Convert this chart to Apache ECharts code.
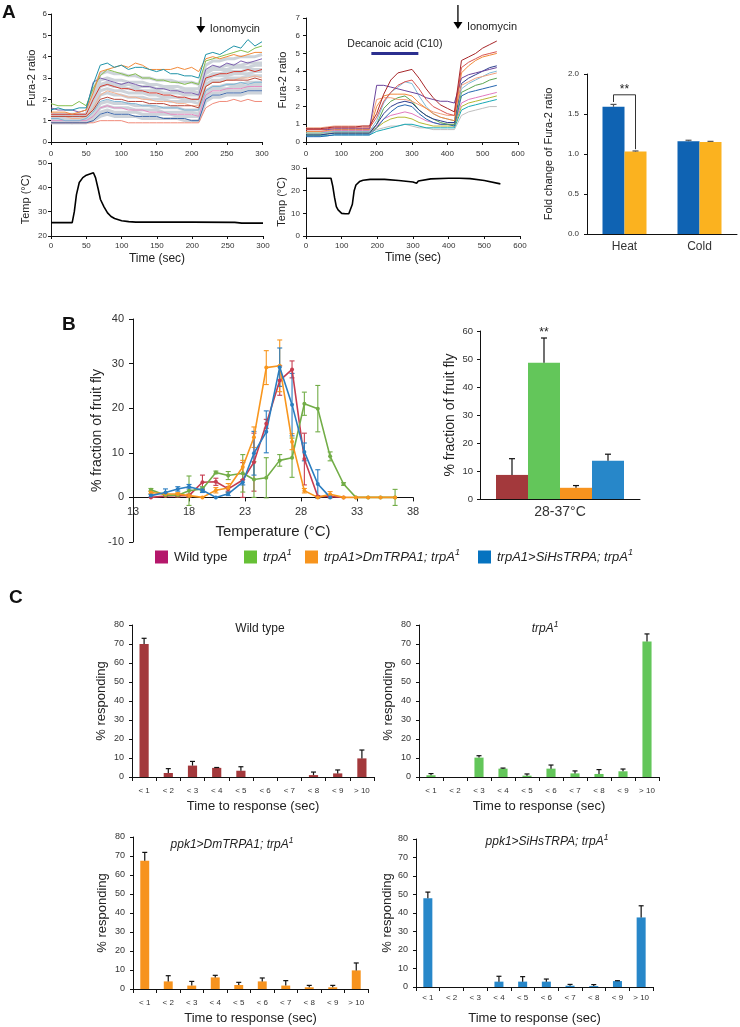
<!DOCTYPE html>
<html>
<head>
<meta charset="utf-8">
<script src="https://cdn.jsdelivr.net/npm/echarts@6.0.0/dist/echarts.min.js"></script>
<style>
  html, body { margin: 0; padding: 0; background: #fff; }
  #fig { width: 740px; height: 1027px; }
</style>
</head>
<body>
<div id="fig"></div>
<script>
// ---------- data: panel A, calcium imaging traces (Fura-2 ratio) ----------
const tA = [0,10,20,30,40,50,60,70,80,90,100,110,120,130,140,150,160,170,180,190,200,210,220,230,240,250,260,270,280,290,300];
const fA_grey1 = [1.1,1.1,1.1,1.0,1.1,1.1,1.8,2.6,2.7,2.6,2.6,2.5,2.5,2.4,2.4,2.4,2.3,2.3,2.3,2.2,2.2,2.2,3.0,3.2,3.2,3.3,3.3,3.3,3.4,3.4,3.4];
const fA_grey2 = [1.0,1.0,1.0,1.0,1.0,1.0,1.5,2.2,2.3,2.2,2.2,2.1,2.1,2.1,2.0,2.0,2.0,1.9,1.9,1.9,1.9,1.8,2.7,2.9,2.9,3.0,3.0,3.0,3.1,3.1,3.1];
const fA_grey3 = [1.0,1.0,1.0,0.9,1.0,1.0,1.3,1.8,1.9,1.8,1.8,1.8,1.7,1.7,1.7,1.6,1.6,1.6,1.6,1.5,1.5,1.5,2.4,2.6,2.6,2.7,2.7,2.7,2.8,2.8,2.8];
const fA_grey4 = [0.9,0.9,0.9,0.9,0.9,0.9,1.1,1.4,1.5,1.4,1.4,1.4,1.4,1.3,1.3,1.3,1.3,1.3,1.2,1.2,1.2,1.2,2.1,2.3,2.3,2.4,2.4,2.4,2.5,2.5,2.5];
const fA_grey5 = [1.2,1.2,1.2,1.2,1.2,1.2,2.1,2.9,3.0,2.9,2.9,2.8,2.8,2.8,2.7,2.7,2.6,2.6,2.6,2.5,2.5,2.5,3.3,3.5,3.5,3.6,3.6,3.6,3.7,3.7,3.7];
const fA_grey6 = [1.0,1.0,1.0,1.0,1.0,1.0,1.2,1.6,1.7,1.6,1.6,1.6,1.5,1.5,1.5,1.5,1.4,1.4,1.4,1.4,1.4,1.3,2.2,2.5,2.5,2.5,2.6,2.6,2.6,2.7,2.7];
const fA_grey7 = [1.3,1.3,1.3,1.3,1.3,1.3,2.4,3.2,3.3,3.2,3.2,3.1,3.1,3.0,3.0,2.9,2.9,2.9,2.8,2.8,2.8,2.7,3.6,3.8,3.8,3.9,3.9,4.0,4.0,4.0,4.1];
const fA_grey8 = [1.1,1.1,1.1,1.1,1.1,1.1,1.6,2.4,2.5,2.4,2.4,2.3,2.3,2.3,2.2,2.2,2.1,2.1,2.1,2.0,2.0,2.0,2.9,3.1,3.1,3.1,3.2,3.2,3.2,3.3,3.3];
const fA_grey9 = [0.9,0.9,0.9,0.9,0.9,0.9,1.0,1.2,1.3,1.2,1.2,1.2,1.2,1.1,1.1,1.1,1.1,1.1,1.1,1.0,1.0,1.0,1.9,2.1,2.1,2.2,2.2,2.2,2.3,2.3,2.3];
const fA_grey10 = [1.2,1.2,1.2,1.1,1.2,1.2,1.9,2.7,2.8,2.7,2.7,2.7,2.6,2.6,2.6,2.5,2.5,2.5,2.4,2.4,2.4,2.3,3.2,3.4,3.4,3.4,3.5,3.5,3.5,3.6,3.6];
const fA_teal = [1.5,1.6,1.5,1.5,1.6,1.6,2.7,3.6,3.7,3.5,3.6,3.4,3.5,3.5,3.4,3.3,3.4,3.2,3.2,3.1,3.1,3.0,4.1,4.2,4.1,4.3,4.5,4.4,4.8,4.5,4.7];
const fA_orange = [1.4,1.4,1.4,1.3,1.4,1.5,2.3,3.3,3.4,3.5,3.6,3.5,3.7,3.6,3.4,3.4,3.4,3.4,3.5,3.4,3.5,3.3,3.9,4.0,3.9,4.0,4.1,4.0,4.1,4.2,4.2];
const fA_green = [1.8,1.7,1.7,1.7,1.9,1.7,2.5,3.1,3.4,3.3,3.2,3.1,3.2,3.0,3.0,2.9,2.9,2.8,2.8,2.7,2.8,2.7,3.8,3.9,4.0,4.1,4.2,4.3,4.2,4.4,4.5];
const fA_purple = [1.6,1.5,1.5,1.5,1.4,1.5,2.8,3.0,2.9,2.8,2.7,2.8,2.7,2.6,2.6,2.5,2.5,2.4,2.4,2.3,2.3,2.2,3.4,3.6,3.5,3.7,3.6,3.8,3.7,3.8,3.9];
const fA_red = [1.3,1.3,1.3,1.3,1.3,1.3,2.0,2.6,2.7,2.6,2.5,2.5,2.4,2.4,2.3,2.3,2.2,2.2,2.1,2.1,2.0,2.0,3.0,3.1,3.2,3.2,3.3,3.3,3.4,3.3,3.4];
const fA_peach = [1.2,1.2,1.2,1.1,1.1,1.2,1.6,2.2,2.4,2.3,2.2,2.1,2.1,2.0,2.0,1.9,1.9,1.9,1.8,1.8,1.7,1.7,2.6,2.8,2.8,2.9,2.9,3.0,3.0,3.1,3.0];
const fA_sky = [1.1,1.1,1.0,1.0,1.0,1.1,1.4,1.9,2.0,1.9,1.9,1.8,1.8,1.7,1.7,1.7,1.6,1.6,1.6,1.5,1.5,1.5,2.4,2.6,2.6,2.7,2.7,2.8,2.7,2.8,2.8];
const fA_pink = [1.0,1.0,1.0,1.0,1.0,1.0,1.2,1.6,1.7,1.6,1.6,1.5,1.5,1.5,1.4,1.4,1.4,1.3,1.3,1.3,1.3,1.2,2.2,2.4,2.4,2.5,2.5,2.5,2.6,2.6,2.6];
const fA_navy = [0.9,0.9,0.9,0.9,0.9,0.9,1.0,1.3,1.4,1.3,1.3,1.3,1.2,1.2,1.2,1.2,1.1,1.1,1.1,1.1,1.0,1.0,2.0,2.2,2.2,2.3,2.3,2.3,2.4,2.4,2.4];
const fA_salmon = [0.9,0.9,0.9,0.9,0.9,0.9,0.9,1.0,1.0,1.0,1.0,0.9,0.9,0.9,0.9,0.9,0.9,0.9,0.9,0.9,0.9,0.9,1.6,1.8,1.9,1.9,2.0,1.9,2.0,1.9,1.9];
const fA_brick = [1.2,1.2,1.2,1.2,1.2,1.2,1.5,2.0,2.1,2.0,2.0,1.9,1.9,1.9,1.8,1.8,1.8,1.7,1.7,1.7,1.7,1.6,2.6,2.8,2.8,2.9,2.9,2.9,2.9,3.0,2.9];

const tM = [0,20,40,60,80,100,120,140,160,180,200,220,240,260,280,300,320,340,360,380,400,420,440,460,480,500,520,540];
const fM_red = [0.75,0.75,0.75,0.8,0.85,0.85,0.85,0.85,0.9,0.9,1.6,2.7,3.5,3.9,4.0,4.1,3.6,3.0,2.5,2.1,1.9,1.7,4.6,4.8,5.0,5.3,5.5,5.7];
const fM_rose = [0.7,0.7,0.7,0.75,0.8,0.8,0.8,0.8,0.8,0.8,1.4,2.3,2.8,3.2,3.4,3.5,3.0,2.4,2.0,1.8,1.6,1.5,4.2,4.5,4.7,4.9,5.0,5.1];
const fM_purple = [0.7,0.7,0.7,0.7,0.75,0.75,0.75,0.75,0.75,0.75,3.2,3.2,3.1,3.0,2.9,2.8,2.7,2.5,2.4,2.3,2.3,2.2,3.6,3.8,3.9,4.0,4.1,4.2];
const fM_orange = [0.6,0.6,0.6,0.65,0.7,0.7,0.7,0.7,0.7,0.7,2.0,2.6,2.7,2.7,2.7,2.6,2.2,1.9,1.6,1.4,1.3,1.2,3.9,4.3,4.6,4.8,4.9,5.0];
const fM_ltblue = [0.5,0.5,0.5,0.55,0.6,0.6,0.6,0.6,0.6,0.6,1.2,2.2,2.8,3.1,3.4,3.3,2.6,2.0,1.6,1.4,1.3,1.2,3.0,3.3,3.5,3.7,3.9,4.0];
const fM_green = [0.4,0.4,0.4,0.45,0.5,0.5,0.5,0.5,0.5,0.5,1.0,1.9,2.3,2.5,2.6,2.3,1.8,1.5,1.3,1.1,1.0,1.0,2.8,3.0,3.2,3.3,3.5,3.6];
const fM_blue = [0.3,0.3,0.3,0.35,0.4,0.4,0.4,0.4,0.4,0.4,0.8,1.3,1.7,2.0,2.1,2.0,1.6,1.3,1.1,1.0,1.0,0.9,2.6,2.8,2.9,3.0,3.1,3.2];
const fM_pink = [0.6,0.6,0.6,0.6,0.65,0.65,0.65,0.65,0.65,0.65,0.9,1.3,1.5,1.6,1.7,1.6,1.4,1.2,1.1,1.0,1.0,1.0,2.2,2.4,2.5,2.6,2.7,2.8];
const fM_teal = [0.35,0.35,0.35,0.35,0.4,0.4,0.4,0.4,0.4,0.4,0.6,0.7,0.8,0.9,1.0,1.0,0.9,0.8,0.8,0.8,0.8,0.8,1.8,2.0,2.1,2.2,2.3,2.4];
const fM_salmon = [0.8,0.8,0.8,0.85,0.9,0.9,0.9,0.9,0.9,0.9,2.4,2.5,2.5,2.4,2.4,2.3,2.1,1.9,1.7,1.6,1.5,1.5,3.2,3.4,3.6,3.7,3.8,3.9];
const fM_grey = [0.5,0.5,0.5,0.5,0.55,0.55,0.55,0.55,0.55,0.55,0.7,0.8,0.9,0.9,1.0,0.9,0.8,0.8,0.7,0.7,0.7,0.7,1.5,1.7,1.8,1.9,2.0,2.0];
const fM_olive = [0.5,0.5,0.5,0.55,0.6,0.6,0.6,0.6,0.6,0.6,0.8,1.1,1.3,1.4,1.4,1.3,1.1,1.0,0.9,0.9,0.9,0.9,2.0,2.2,2.3,2.4,2.5,2.6];
const fM_navy = [0.4,0.4,0.4,0.45,0.5,0.5,0.5,0.5,0.5,0.5,1.0,1.6,2.0,2.2,2.3,2.2,1.8,1.5,1.3,1.2,1.1,1.1,3.3,3.6,3.8,4.0,4.2,4.3];

// temperature records
const tempA_t = [0,30,33,36,40,45,50,55,60,63,67,70,75,80,85,90,100,110,120,200,260,270,300];
const tempA_v = [25.5,25.5,30,37,42,44,45,45.5,46,44,39,35,32,29.5,28,27.2,26.3,25.9,25.7,25.7,25.6,25.3,25.3];
const tempM_t = [0,70,75,80,85,90,100,110,120,125,130,135,140,150,160,180,220,260,300,305,310,315,320,350,400,430,460,500,545];
const tempM_v = [25.5,25.5,22,17,13,11.5,10,9.8,9.8,10,14,20,22.5,24,24.6,25,25,24.5,23.8,23.5,23.3,24.3,25,25.2,25.5,25.5,25.3,24.5,23];

// event times (s)
const ionoA = 213;
const ionoM = 430;
const c10On = 185, c10Off = 318;

// fold change bars
const foldCats = ['Heat', 'Cold'];
const foldBlue = [1.59, 1.16];
const foldBlueErr = [0.03, 0.012];
const foldOrange = [1.03, 1.15];
const foldOrangeErr = [0.008, 0.008];

// ---------- data: panel B, thermal preference ----------
const bTemp = [14.6,15.9,17.0,18.0,19.2,20.4,21.5,22.8,23.8,24.9,26.1,27.2,28.3,29.5,30.6,31.8,32.9,34.0,35.1,36.4];
const wtMean = [0,0.3,0.4,0.4,3.4,3.5,1.9,3.9,7.9,16.5,26.2,28.7,8.6,0.2,0.2,0,null,null,null,null];
const wtErr  = [0,0,0.3,0.3,1.6,0.8,0.5,3.9,6.5,1.0,3.3,1.9,5.8,0.2,0.3,0,0,0,0,0];
const trpMean = [1.7,0.5,0.5,1.5,1.9,5.6,4.9,5.4,4.0,4.4,8.3,8.9,21.0,19.9,9.2,3.0,0,0,0,0];
const trpErr  = [0.3,0.3,0.3,3.3,0.5,0.3,0.9,4.2,4.0,4.5,1.3,4.4,2.6,5.2,1.0,0.3,0,0,0,1.8];
const dmMean = [1.1,0.75,0.75,0.4,0,1.6,2.1,6.8,13.5,29.1,29.5,12.5,1.5,0,0.7,0,0,0,0,0];
const dmErr  = [0.3,0.3,0.3,0.3,0,0.6,1.0,1.5,2.3,3.8,5.8,1.8,0.5,0,0.6,0,0,0,0,0];
const siMean = [0.4,1.1,1.9,2.4,1.6,0,0.8,3.4,9.9,14.7,29.2,20.8,10.2,3.0,0,null,null,null,null,null];
const siErr  = [0.3,0.8,0.5,0.5,0.5,0,0.4,0.6,4.9,4.7,4.3,7.0,2.0,3.2,0,0,0,0,0,0];

const bBarCats = ['28-37°C'];
const bBarMean = [8.6, 48.7, 4.0, 13.7];
const bBarErr = [5.8, 8.8, 0.8, 2.3];

// ---------- data: panel C, time to response ----------
const cCats = ['< 1','< 2','< 3','< 4','< 5','< 6','< 7','< 8','< 9','> 10'];
const cWt = [70,2.1,6.0,4.8,3.3,0,0,1.0,1.9,9.8];
const cWtErr = [3,2.3,2.2,0.2,2.1,0,0,1.6,1.8,4.4];
const cTrp = [0.9,0,10.2,4.4,0.7,4.4,1.9,1.6,3.0,71.3];
const cTrpErr = [0.9,0,1.0,0.3,0.9,1.9,1.3,2.3,1.2,4.0];
const cDm = [67.5,4.0,1.8,6.1,2.1,4.0,1.8,0.9,0.9,9.8];
const cDmErr = [4.4,3.0,2.2,1.1,1.4,1.8,2.6,1.0,1.0,3.9];
const cSi = [48.0,0,0,2.9,2.9,2.9,0.7,0.5,3.2,37.6];
const cSiErr = [3.3,0,0,2.9,2.7,1.4,0.7,0.8,0.2,6.3];

// ---------- chart ----------
const FONT = 'Arial, "Liberation Sans", Helvetica, sans-serif';
const chart = echarts.init(document.getElementById('fig'));

const grids = [
  {left: 51, top: 14, width: 211, height: 128},   // A traces
  {left: 51, top: 163, width: 212, height: 73},   // A temp
  {left: 306, top: 18, width: 212, height: 124},  // A C10 traces
  {left: 306, top: 168, width: 214, height: 68},  // A C10 temp
  {left: 587, top: 74, width: 150, height: 160},  // A fold change
  {left: 133, top: 319, width: 280, height: 223}, // B line
  {left: 480, top: 331, width: 160, height: 168}, // B bar
  {left: 132, top: 625, width: 242, height: 152}, // C wild type
  {left: 419, top: 625, width: 240, height: 152}, // C trpA1
  {left: 133, top: 837, width: 235, height: 152}, // C Dm
  {left: 416, top: 839, width: 237, height: 148}  // C Si
];

function axis(type, grid, o) {
  o = o || {};
  return {
    type: type,
    gridIndex: grid,
    min: o.min, max: o.max, interval: o.interval,
    data: o.data,
    offset: o.offset || 0,
    name: o.name || '',
    nameLocation: 'middle',
    nameGap: o.nameGap || 20,
    nameTextStyle: {fontFamily: FONT, fontSize: o.nameSize || 12, color: '#222'},
    splitLine: {show: false},
    axisLine: {show: true, onZero: false, lineStyle: {color: '#111', width: 1}},
    axisTick: {show: o.tick !== false, length: o.tickLen || 3, interval: 0, alignWithLabel: false, lineStyle: {color: '#111'}},
    axisLabel: {
      fontFamily: FONT, fontSize: o.labelSize || 8, color: '#333',
      margin: o.margin || 5, interval: 0, formatter: o.fmt
    }
  };
}

// B line chart: x axis sits on y = 0 (grid is 223 px tall for a -10..40 range)
const B_ZERO_SHIFT = -223 * 10 / 50;

const xAxes = [], yAxes = [];
xAxes.push(axis('value', 0, {min: 0, max: 300, interval: 50, margin: 8}));
yAxes.push(axis('value', 0, {min: 0, max: 6, interval: 1, margin: 4, name: 'Fura-2 ratio', nameGap: 14, nameSize: 11}));
xAxes.push(axis('value', 1, {min: 0, max: 300, interval: 50, margin: 6, name: 'Time (sec)', nameGap: 17, nameSize: 12}));
yAxes.push(axis('value', 1, {min: 20, max: 50, interval: 10, margin: 4, name: 'Temp (°C)', nameGap: 20, nameSize: 11}));
xAxes.push(axis('value', 2, {min: 0, max: 600, interval: 100, margin: 8}));
yAxes.push(axis('value', 2, {min: 0, max: 7, interval: 1, margin: 6, name: 'Fura-2 ratio', nameGap: 18, nameSize: 11}));
xAxes.push(axis('value', 3, {min: 0, max: 600, interval: 100, margin: 6, name: 'Time (sec)', nameGap: 16, nameSize: 12}));
yAxes.push(axis('value', 3, {min: 0, max: 30, interval: 10, margin: 6, name: 'Temp (°C)', nameGap: 18, nameSize: 11}));
xAxes.push(axis('category', 4, {data: foldCats, labelSize: 12, margin: 7, tick: false}));
yAxes.push(axis('value', 4, {min: 0, max: 2, interval: 0.5, margin: 8, fmt: v => v.toFixed(1),
  name: 'Fold change of Fura-2 ratio', nameGap: 33, nameSize: 11}));
xAxes.push(axis('value', 5, {min: 13, max: 38, interval: 5, offset: B_ZERO_SHIFT, labelSize: 11, margin: 9, tickLen: 4,
  name: 'Temperature (°C)', nameGap: 27, nameSize: 15}));
yAxes.push(axis('value', 5, {min: -10, max: 40, interval: 10, labelSize: 11, margin: 9, tickLen: 4,
  name: '% fraction of fruit fly', nameGap: 25, nameSize: 14}));
xAxes.push(axis('category', 6, {data: bBarCats, labelSize: 14, margin: 6, tick: false}));
yAxes.push(axis('value', 6, {min: 0, max: 60, interval: 10, labelSize: 9.5, margin: 7,
  name: '% fraction of fruit fly', nameGap: 23, nameSize: 14}));
[7, 8, 9, 10].forEach((g, k) => {
  xAxes.push(axis('category', g, {data: cCats, labelSize: 8, margin: k === 3 ? 7 : 10, tickLen: 4,
    name: 'Time to response (sec)', nameGap: k === 3 ? 25 : 23, nameSize: 13}));
  yAxes.push(axis('value', g, {min: 0, max: 80, interval: 10, labelSize: 9, margin: 8,
    name: '% responding', nameGap: k === 3 ? 21 : 24, nameSize: 13}));
});

function trace(grid, ts, vs, color, w) {
  return {
    type: 'line', xAxisIndex: grid, yAxisIndex: grid, silent: true,
    data: ts.map((t, i) => [t, vs[i]]),
    symbol: 'none', lineStyle: {color: color, width: w}, itemStyle: {color: color}, z: 2
  };
}

// error bars drawn through the axes' own coordinate system
function errBars(grid, xs, ys, es, color, opt) {
  opt = opt || {};
  const data = [];
  xs.forEach((x, i) => { if (ys[i] != null && es[i] > 0) data.push([x, ys[i], es[i]]); });
  return {
    type: 'custom', xAxisIndex: grid, yAxisIndex: grid, silent: true, z: opt.z || 4,
    data: data,
    renderItem: function (params, api) {
      const x = api.value(0), y = api.value(1), e = api.value(2);
      const top = api.coord([x, y + e]);
      const bot = api.coord([x, opt.both ? y - e : y]);
      const cx = top[0] + (opt.offset || 0);
      const c = opt.cap || 2.5;
      const st = {stroke: color, lineWidth: opt.lw || 1.2};
      const kids = [
        {type: 'line', shape: {x1: cx, y1: top[1], x2: cx, y2: bot[1]}, style: st},
        {type: 'line', shape: {x1: cx - c, y1: top[1], x2: cx + c, y2: top[1]}, style: st}
      ];
      if (opt.both) kids.push({type: 'line', shape: {x1: cx - c, y1: bot[1], x2: cx + c, y2: bot[1]}, style: st});
      return {type: 'group', children: kids};
    }
  };
}

const series = [];
// A: heat traces
[fA_grey1, fA_grey2, fA_grey3, fA_grey4, fA_grey5, fA_grey6, fA_grey7, fA_grey8, fA_grey9, fA_grey10]
  .forEach(v => series.push(trace(0, tA, v, '#cdd3da', 3)));
[[fA_salmon, '#f08a7a'], [fA_navy, '#3a64a8'], [fA_pink, '#e58bc0'], [fA_sky, '#7fb6d6'], [fA_peach, '#f6b08e'],
 [fA_brick, '#b8463a'], [fA_red, '#d43a2f'], [fA_purple, '#7d5fae'], [fA_green, '#86bf4e'],
 [fA_orange, '#f28a3a'], [fA_teal, '#1f93a8']].forEach(([v, c]) => series.push(trace(0, tA, v, c, 1)));
series.push(trace(1, tempA_t, tempA_v, '#000', 1.6));
// A: decanoic acid traces
[[fM_grey, '#bfbfbf'], [fM_teal, '#17a9b5'], [fM_olive, '#b5b833'], [fM_pink, '#e27ac0'], [fM_blue, '#2566b0'],
 [fM_green, '#5aa550'], [fM_ltblue, '#7fbbd9'], [fM_navy, '#2d3e8f'], [fM_salmon, '#f3a07c'],
 [fM_orange, '#f28a3a'], [fM_purple, '#6b449c'], [fM_rose, '#d9534f'], [fM_red, '#a8272a']
].forEach(([v, c]) => series.push(trace(2, tM, v, c, 1)));
series.push(trace(3, tempM_t, tempM_v, '#000', 1.6));
// A: fold change
const FOLD_W = 22;
series.push({type: 'bar', name: 'blue', xAxisIndex: 4, yAxisIndex: 4, data: foldBlue, barWidth: FOLD_W, barGap: '0%', itemStyle: {color: '#0f63b3'}});
series.push({type: 'bar', name: 'orange', xAxisIndex: 4, yAxisIndex: 4, data: foldOrange, barWidth: FOLD_W, barGap: '0%', itemStyle: {color: '#fbb21f'}});
series.push(errBars(4, [0, 1], foldBlue, foldBlueErr, '#555', {offset: -FOLD_W / 2, cap: 3}));
series.push(errBars(4, [0, 1], foldOrange, foldOrangeErr, '#555', {offset: FOLD_W / 2, cap: 3}));

// B: line chart
const bLines = [
  ['Wild type', wtMean, wtErr, '#c63c4f'],
  ['trpA1', trpMean, trpErr, '#72ad47'],
  ['trpA1>DmTRPA1; trpA1', dmMean, dmErr, '#f8961e'],
  ['trpA1>SiHsTRPA; trpA1', siMean, siErr, '#2a7dc0']
];
bLines.forEach(([name, m, e, c]) => {
  series.push(errBars(5, bTemp, m, e, c, {both: true, cap: 2.5, lw: 1.1, z: 3}));
  series.push({
    type: 'line', name: name, xAxisIndex: 5, yAxisIndex: 5, silent: true, z: 4,
    data: bTemp.map((t, i) => [t, m[i]]), connectNulls: false,
    symbol: 'circle', symbolSize: 4, showSymbol: true,
    lineStyle: {color: c, width: 1.6}, itemStyle: {color: c}
  });
});
// B: bar chart
const B_W = 32;
const bBarColors = ['#a3393c', '#63c65a', '#f7931e', '#2787c9'];
bBarMean.forEach((v, k) => {
  series.push({type: 'bar', name: bLines[k][0], xAxisIndex: 6, yAxisIndex: 6, data: [v], barWidth: B_W, barGap: '0%',
    itemStyle: {color: bBarColors[k]}});
});
bBarMean.forEach((v, k) => {
  series.push(errBars(6, [0], [v], [bBarErr[k]], '#111', {offset: (k - 1.5) * B_W, cap: 3}));
});

// C: response histograms
const cSets = [[7, cWt, cWtErr, '#a3393c'], [8, cTrp, cTrpErr, '#63c65a'], [9, cDm, cDmErr, '#f7931e'], [10, cSi, cSiErr, '#2787c9']];
cSets.forEach(([g, v, e, c]) => {
  series.push({type: 'bar', xAxisIndex: g, yAxisIndex: g, data: v, barWidth: '38%', itemStyle: {color: c}});
  series.push(errBars(g, cCats.map((_, i) => i), v, e, '#111', {cap: 2.5}));
});

chart.setOption({
  animation: false,
  backgroundColor: '#fff',
  textStyle: {fontFamily: FONT},
  grid: grids,
  xAxis: xAxes,
  yAxis: yAxes,
  series: series
});

// ---------- annotations ----------
const sup = {
  n: {fontFamily: FONT, fontSize: 13, fill: '#222', lineHeight: 18},
  i: {fontFamily: FONT, fontSize: 13, fontStyle: 'italic', fill: '#222', lineHeight: 18},
  s: {fontFamily: FONT, fontSize: 9, fontStyle: 'italic', fill: '#222', verticalAlign: 'top', lineHeight: 18}
};
const supSmall = {
  n: {fontFamily: FONT, fontSize: 12, fill: '#222', lineHeight: 17},
  i: {fontFamily: FONT, fontSize: 12, fontStyle: 'italic', fill: '#222', lineHeight: 17},
  s: {fontFamily: FONT, fontSize: 8.5, fontStyle: 'italic', fill: '#222', verticalAlign: 'top', lineHeight: 17}
};
function txt(x, y, text, o) {
  o = o || {};
  return {type: 'text', x: x, y: y, silent: true, z: 100, style: {
    text: text, fontFamily: FONT, fontSize: o.size || 12, fontWeight: o.bold ? 'bold' : 'normal',
    fontStyle: o.italic ? 'italic' : 'normal', fill: o.color || '#222',
    align: o.align || 'left', verticalAlign: o.va || 'middle', rich: o.rich
  }};
}
const g = [];
g.push(txt(2, 13, 'A', {size: 19, bold: true, color: '#111'}));
g.push(txt(62, 325, 'B', {size: 19, bold: true, color: '#111'}));
g.push(txt(9, 598, 'C', {size: 19, bold: true, color: '#111'}));

function ionoArrow(grid, t, yMax, dy0, dy1, labelDy) {
  const p = chart.convertToPixel({gridIndex: grid}, [t, yMax]);
  const x = p[0], y = p[1];
  g.push({type: 'line', silent: true, shape: {x1: x, y1: y + dy0, x2: x, y2: y + dy1 - 6}, style: {stroke: '#000', lineWidth: 1.3}});
  g.push({type: 'polygon', silent: true, shape: {points: [[x - 4.5, y + dy1 - 7], [x + 4.5, y + dy1 - 7], [x, y + dy1]]}, style: {fill: '#000'}});
  g.push(txt(x + 9, y + labelDy, 'Ionomycin', {size: 11}));
}
ionoArrow(0, ionoA, 6, 3, 19, 15);
ionoArrow(2, ionoM, 7, -13, 11, 9);

// decanoic acid application bar
const c0 = chart.convertToPixel({gridIndex: 2}, [c10On, 5.0]);
const c1 = chart.convertToPixel({gridIndex: 2}, [c10Off, 5.0]);
g.push({type: 'rect', silent: true, shape: {x: c0[0], y: c0[1] - 1.5, width: c1[0] - c0[0], height: 3}, style: {fill: '#2b2f8f'}});
g.push(txt((c0[0] + c1[0]) / 2, c0[1] - 9, 'Decanoic acid (C10)', {size: 10.5, align: 'center'}));

// significance bracket for Heat
const hTop = chart.convertToPixel({gridIndex: 4}, [0, 1.74]);
const hL = chart.convertToPixel({gridIndex: 4}, [0, 1.65]);
const hR = chart.convertToPixel({gridIndex: 4}, [0, 1.06]);
const lx = hTop[0] - FOLD_W / 2, rx = hTop[0] + FOLD_W / 2;
g.push({type: 'polyline', silent: true, shape: {points: [[lx, hL[1]], [lx, hTop[1]], [rx, hTop[1]], [rx, hR[1]]]}, style: {stroke: '#333', lineWidth: 1, fill: null}});
g.push(txt(hTop[0], hTop[1] - 5, '**', {size: 12, align: 'center'}));

// significance on the trpA1 bar
const gs = chart.convertToPixel({gridIndex: 6}, [0, bBarMean[1] + bBarErr[1]]);
g.push(txt(gs[0] - 0.5 * B_W, gs[1] - 5, '**', {size: 12, align: 'center'}));

// legend for panel B
const legendItems = [
  [155, '#b5176b', '{n|Wild type}'],
  [244, '#66c036', '{i|trpA}{s|1}'],
  [305, '#f7941d', '{i|trpA1>DmTRPA1; trpA}{s|1}'],
  [478, '#0673c0', '{i|trpA1>SiHsTRPA; trpA}{s|1}']
];
legendItems.forEach(([x, c, t]) => {
  g.push({type: 'rect', silent: true, shape: {x: x, y: 550.5, width: 13, height: 13}, style: {fill: c}});
  g.push(txt(x + 19, 557, t, {size: 13, rich: sup}));
});

// panel C titles
g.push(txt(260, 629, '{n|Wild type}', {align: 'center', rich: supSmall}));
g.push(txt(545, 629, '{i|trpA}{s|1}', {align: 'center', rich: supSmall}));
g.push(txt(232, 845, '{i|ppk1>DmTRPA1; trpA}{s|1}', {align: 'center', rich: supSmall}));
g.push(txt(547, 842, '{i|ppk1>SiHsTRPA; trpA}{s|1}', {align: 'center', rich: supSmall}));

chart.setOption({graphic: g});
</script>
</body>
</html>
